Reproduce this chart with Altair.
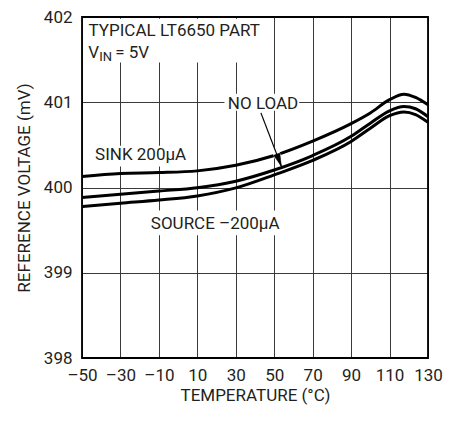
import altair as alt
import pandas as pd

FONT = "Roboto"
INK = "#231f20"
FS = 17

# ---- data ----
temps = [-50, -30, -10, 10, 30, 50, 70, 90, 100, 110, 117.5, 123.5, 130]
sink_mv = [400.13, 400.165, 400.175, 400.195, 400.26, 400.375, 400.545, 400.75, 400.875, 401.03, 401.095, 401.057, 400.97]
noload_mv = [399.883, 399.92, 399.958, 399.997, 400.074, 400.205, 400.375, 400.60, 400.755, 400.9, 400.95, 400.924, 400.83]
source_mv = [399.776, 399.815, 399.852, 399.901, 399.995, 400.148, 400.318, 400.54, 400.695, 400.843, 400.886, 400.856, 400.765]
series_names = ["SINK", "NO LOAD", "SOURCE"]

x_ticks = [-50, -30, -10, 10, 30, 50, 70, 90, 110, 130]
x_tick_labels = ["–50", "–30", "–10", "10", "30", "50", "70", "90", "110", "130"]
y_ticks = [398, 399, 400, 401, 402]
x_domain = [-50, 130]
y_domain = [398, 402]

# annotation anchors (data units)
label_texts = ["TYPICAL LT6650 PART", "NO LOAD", "SINK 200μA", "SOURCE –200μA"]
label_t = [-46.6, 44.2, -43.2, -14.2]
label_v = [401.774, 400.924, 400.318, 399.515]
label_align = ["left", "center", "left", "left"]
vin_t, vin_v = -46.8, 401.519

# white masks behind labels
mask_t1 = [-49.2, 24.1, -44.9, -16.3]
mask_t2 = [42.6, 63.0, 4.2, 52.3]
mask_v1 = [401.466, 400.90, 400.245, 399.44]
mask_v2 = [401.98, 401.10, 400.49, 399.73]

# arrow (NO LOAD pointer)
arrow_t = [43.07, 53.65]
arrow_v = [400.875, 400.253]
gap_t = [49.95, 52.38]
gap_v = [400.471, 400.328]
head_t, head_v = [52.5], [400.32]

# ---- tables (all use the same column names T / V so the axes merge) ----
rows = []
for name, vals in zip(series_names, [sink_mv, noload_mv, source_mv]):
    for t, v in zip(temps, vals):
        rows.append({"T": t, "V": v, "s": name})
curves = pd.DataFrame(rows)

labels = pd.DataFrame({"T": label_t, "V": label_v, "txt": label_texts})
masks = pd.DataFrame({"T": mask_t1, "T2": mask_t2, "V": mask_v1, "V2": mask_v2})
arrow = pd.DataFrame({"T": arrow_t, "V": arrow_v})
gap = pd.DataFrame({"T": gap_t, "V": gap_v})
head = pd.DataFrame({"T": head_t, "V": head_v})
vin = pd.DataFrame({"T": [vin_t], "V": [vin_v]})
frame = pd.DataFrame({"T": [x_domain[0]], "T2": [x_domain[1]], "V": [y_domain[0]], "V2": [y_domain[1]]})

xs = alt.Scale(domain=x_domain, nice=False, zero=False)
ys = alt.Scale(domain=y_domain, nice=False, zero=False)

label_expr = ("[" + ",".join(f"'{l}'" for l in x_tick_labels) + "][indexof(["
              + ",".join(str(t) for t in x_ticks) + "], datum.value)]")

X_AXIS = alt.Axis(values=x_ticks, labelExpr=label_expr, title="TEMPERATURE (°C)",
                  labelPadding=9, titlePadding=4, labelOverlap=False, labelFlush=False)
Y_AXIS = alt.Axis(values=y_ticks, format="d", title="REFERENCE VOLTAGE (mV)",
                  labelPadding=10, titlePadding=10, labelOverlap=False, labelFlush=False)

X = alt.X("T:Q", scale=xs, axis=X_AXIS)
Y = alt.Y("V:Q", scale=ys, axis=Y_AXIS)

curve_layer = alt.Chart(curves).mark_line(stroke="black", strokeWidth=3, interpolate="monotone").encode(
    x=X, y=Y, detail="s:N")

mask_layer = alt.Chart(masks).mark_rect(fill="white", strokeWidth=0).encode(x=X, x2="T2", y=Y, y2="V2")

gap_layer = alt.Chart(gap).mark_line(stroke="white", strokeWidth=7).encode(x=X, y=Y)
arrow_layer = alt.Chart(arrow).mark_line(stroke="black", strokeWidth=1.2).encode(x=X, y=Y)
head_layer = alt.Chart(head).mark_point(shape="M0,-1L-0.5,1L0.5,1Z", filled=True, fill="black",
                                        stroke="black", strokeWidth=0.5,
                                        size=169, angle=159.3, opacity=1).encode(x=X, y=Y)

text_layers = []
for i in range(len(label_texts)):
    sub = labels.iloc[[i]]
    text_layers.append(
        alt.Chart(sub).mark_text(font=FONT, fontSize=FS, color=INK, align=label_align[i], baseline="alphabetic")
        .encode(x=X, y=Y, text="txt:N")
    )

vin_v_layer = alt.Chart(vin).mark_text(text="V", font=FONT, fontSize=FS, color=INK, align="left",
                                       baseline="alphabetic").encode(x=X, y=Y)
vin_sub_layer = alt.Chart(vin).mark_text(text="IN", font=FONT, fontSize=13, color=INK, align="left",
                                         baseline="alphabetic", dx=11, dy=3.4).encode(x=X, y=Y)
vin_eq_layer = alt.Chart(vin).mark_text(text="= 5V", font=FONT, fontSize=FS, color=INK, align="left",
                                        baseline="alphabetic", dx=27).encode(x=X, y=Y)

frame_layer = alt.Chart(frame).mark_rect(filled=False, stroke="black", strokeWidth=1.8).encode(
    x=X, x2="T2", y=Y, y2="V2")

chart = alt.layer(
    mask_layer, curve_layer, gap_layer, arrow_layer, head_layer,
    *text_layers, vin_v_layer, vin_sub_layer, vin_eq_layer, frame_layer
).properties(
    width=346, height=341,
    autosize=alt.AutoSizeParams(type="none"),
    padding={"left": 74, "top": 9, "right": 15, "bottom": 48},
    background="white",
).configure_view(stroke=None).configure_axis(
    grid=True, gridColor="#3a3a3a", gridWidth=1, gridOpacity=1,
    domain=False, ticks=False, tickSize=0,
    labelFont=FONT, labelFontSize=FS, labelColor=INK,
    titleFont=FONT, titleFontSize=FS, titleFontWeight="normal", titleColor=INK,
)

chart.save("out.html", embed_options={"renderer": "svg", "actions": False})
